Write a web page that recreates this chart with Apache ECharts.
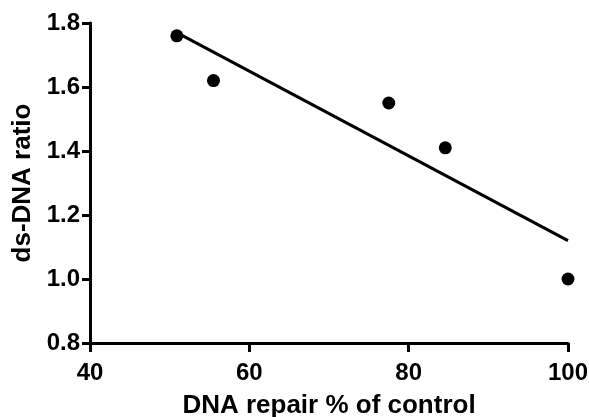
<!DOCTYPE html>
<html>
<head>
<meta charset="utf-8">
<script src="https://cdn.jsdelivr.net/npm/echarts@6/dist/echarts.min.js"></script>
<style>
  html, body { margin: 0; padding: 0; background: #fff; }
  #main { width: 589px; height: 417px; }
</style>
</head>
<body>
<div id="main"></div>
<script>
// data
var repairPct = [50.9, 55.5, 77.5, 84.6, 100];
var dsDnaRatio = [1.76, 1.62, 1.55, 1.41, 1.00];
// fitted line end points
var fitX = [50.9, 100];
var fitY = [1.77, 1.12];

var myChart = echarts.init(document.getElementById("main"));

var font = "'Liberation Sans', Arial, sans-serif";

var option = {
  animation: false,
  backgroundColor: "#fff",
  grid: {
    left: 90,
    right: 21,
    top: 23,
    bottom: 74,
    outerBoundsMode: "none",
    containLabel: false
  },
  xAxis: {
    type: "value",
    min: 40,
    max: 100,
    interval: 20,
    name: "DNA repair % of control",
    nameLocation: "middle",
    nameGap: 50,
    nameTextStyle: { fontFamily: font, fontWeight: "bold", fontSize: 26, color: "#000" },
    axisLine: { lineStyle: { color: "#000", width: 3 } },
    axisTick: { length: 9, lineStyle: { color: "#000", width: 3 } },
    axisLabel: { margin: 18, fontFamily: font, fontWeight: "bold", fontSize: 24, color: "#000" },
    splitLine: { show: false }
  },
  yAxis: {
    type: "value",
    min: 0.8,
    max: 1.8,
    interval: 0.2,
    name: "ds-DNA ratio",
    nameLocation: "middle",
    nameGap: 47,
    nameTextStyle: { fontFamily: font, fontWeight: "bold", fontSize: 26, color: "#000" },
    axisLine: { show: true, lineStyle: { color: "#000", width: 3 } },
    axisTick: { show: true, length: 8, lineStyle: { color: "#000", width: 3 } },
    axisLabel: {
      margin: 10,
      fontFamily: font,
      fontWeight: "bold",
      fontSize: 24,
      color: "#000",
      formatter: function (v) { return v.toFixed(1); }
    },
    splitLine: { show: false }
  },
  series: [
    {
      type: "line",
      data: fitX.map(function (x, i) { return [x, fitY[i]]; }),
      showSymbol: false,
      lineStyle: { color: "#000", width: 3 },
      z: 1
    },
    {
      type: "scatter",
      data: repairPct.map(function (x, i) { return [x, dsDnaRatio[i]]; }),
      symbol: "circle",
      symbolSize: 13,
      itemStyle: { color: "#000", opacity: 1 },
      z: 2
    }
  ]
};

myChart.setOption(option);
</script>
</body>
</html>
